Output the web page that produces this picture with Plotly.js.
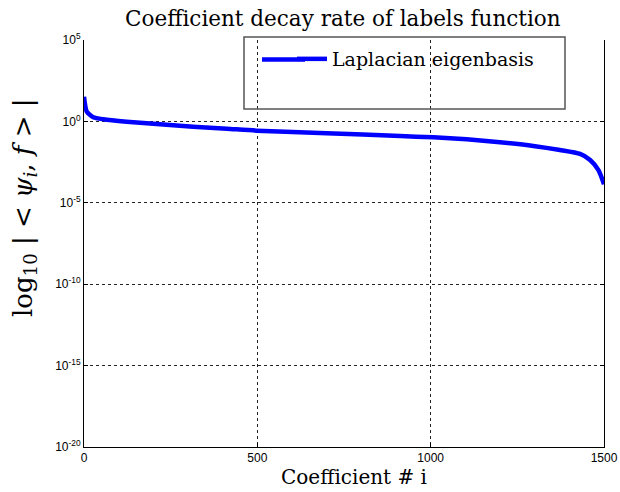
<!DOCTYPE html>
<html>
<head>
<meta charset="utf-8">
<script src="https://cdn.plot.ly/plotly-3.0.1.min.js"></script>
<style>html,body{margin:0;padding:0;background:#fff;}#chart{width:620px;height:492px;}</style>
</head>
<body>
<div id="chart"></div>
<script>
// Coefficient index
const coeffIndex = [0, 8, 27, 56, 123, 219, 315, 412, 498, 700, 912, 1008, 1104, 1200, 1296, 1373, 1431, 1460, 1484, 1500];
// |<psi_i, f>|
const coeffMagnitude = [33, 4.0, 1.8, 1.35, 0.95, 0.66, 0.47, 0.355, 0.27, 0.19, 0.126, 0.105, 0.079, 0.052, 0.031, 0.0174, 0.010, 0.0043, 0.00102, 0.00014];
const seriesName = 'Laplacian eigenbasis';
const xTicks = [0, 500, 1000, 1500];
const yTicks = [1e-20, 1e-15, 1e-10, 1e-5, 1e0, 1e5];
const yTickText = ['10<sup>-20</sup>', '10<sup>-15</sup>', '10<sup>-10</sup>', '10<sup>-5</sup>', '10<sup>0</sup>', '10<sup>5</sup>'];

const serif = '"DejaVu Serif", "Liberation Serif", serif';
const sans = '"Liberation Sans", Arial, sans-serif';

const trace = {
  x: coeffIndex,
  y: coeffMagnitude,
  type: 'scatter',
  mode: 'lines',
  name: seriesName,
  line: {color: 'rgb(0,0,255)', width: 4.5, shape: 'spline', smoothing: 0.6}
};

// paper coords helper from pixel positions
const L = 84, R = 604, T = 40, B = 447;
const px = v => (v - L) / (R - L);
const py = v => (B - v) / (B - T);

const layout = {
  width: 620, height: 492,
  margin: {l: L, r: 620 - R, t: T, b: 492 - B, pad: 0},
  paper_bgcolor: '#fff', plot_bgcolor: '#fff',
  title: {text: 'Coefficient decay rate of labels function', font: {family: serif, size: 21.5, color: '#000'}, x: 0.553, xanchor: 'center', y: 0.963, yanchor: 'middle'},
  showlegend: true,
  legend: {x: px(292), y: py(40), xanchor: 'left', yanchor: 'top', bgcolor: 'rgba(0,0,0,0)', borderwidth: 0, font: {family: serif, size: 19, color: '#000'}},
  xaxis: {
    range: [0, 1500], tickvals: xTicks, ticktext: xTicks.map(String),
    showgrid: true, gridcolor: '#222', griddash: 'dot', gridwidth: 1,
    zeroline: false, showline: true, linecolor: '#000', linewidth: 1, mirror: false,
    ticks: 'inside', ticklen: 4, tickcolor: '#000',
    tickfont: {family: sans, size: 12, color: '#000'},
    title: {text: ''}
  },
  yaxis: {
    type: 'log', range: [-20, 5], tickvals: yTicks, ticktext: yTickText,
    showgrid: true, gridcolor: '#222', griddash: 'dot', gridwidth: 1,
    zeroline: false, showline: true, linecolor: '#000', linewidth: 1, mirror: 'ticks',
    ticks: 'inside', ticklen: 4, tickcolor: '#000',
    tickfont: {family: sans, size: 12, color: '#000'},
    title: {text: ''}
  },
  annotations: [
    {text: 'log<sub>10</sub> | < <i>ψ<sub>i</sub></i>, <i>f</i> > |', xref: 'paper', yref: 'paper', x: px(24), y: py(208), xanchor: 'center', yanchor: 'middle', textangle: -90, showarrow: false, font: {family: serif, size: 26, color: '#000'}},
    {text: 'Coefficient # i', xref: 'paper', yref: 'paper', x: px(354), y: py(477), xanchor: 'center', yanchor: 'middle', showarrow: false, font: {family: serif, size: 20, color: '#000'}}
  ],
  shapes: [
    {type: 'rect', xref: 'paper', yref: 'paper', x0: px(244), x1: px(565), y0: py(109), y1: py(37), line: {color: '#555', width: 1.5}, fillcolor: 'rgba(0,0,0,0)'},
    {type: 'line', xref: 'paper', yref: 'paper', x0: px(262), x1: px(305), y0: py(59.5), y1: py(59.5), line: {color: 'rgb(0,0,255)', width: 4.5}}
  ]
};

Plotly.newPlot('chart', [trace], layout, {displayModeBar: false, staticPlot: true});
</script>
</body>
</html>
